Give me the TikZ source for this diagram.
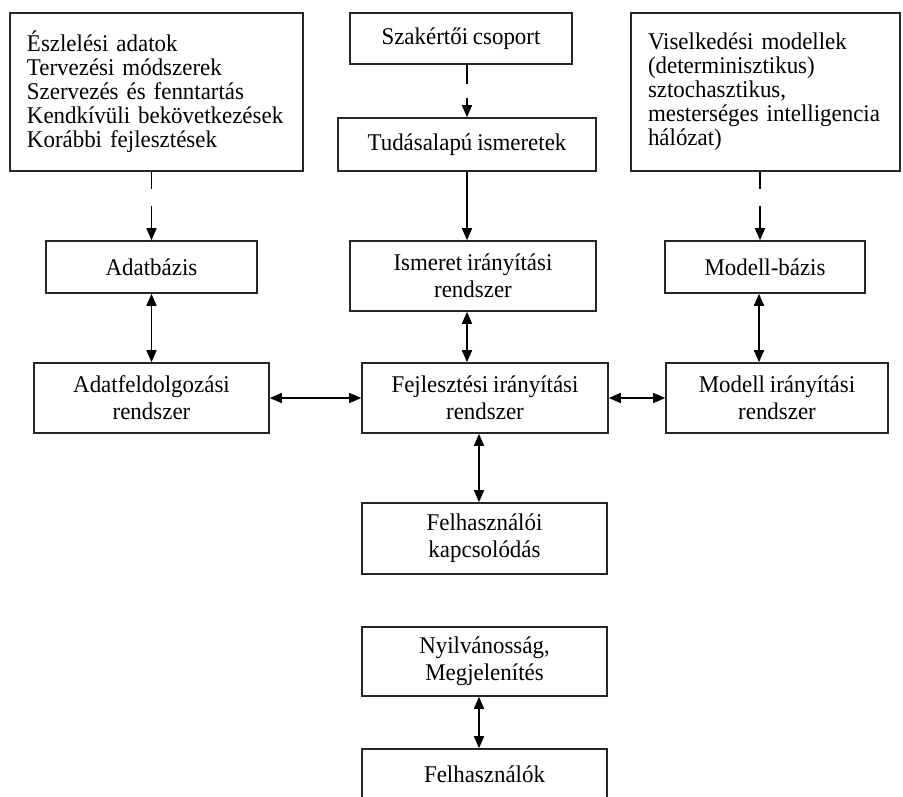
\documentclass[tikz,border=0pt]{standalone}
\usepackage{fontspec}
\setmainfont[FakeStretch=0.955,WordSpace=0.85]{Liberation Serif}
\usetikzlibrary{arrows.meta,calc}
\begin{document}
\begin{tikzpicture}[x=1pt,y=-1pt,
  box/.style={draw=black!85, line width=1.6pt, rectangle, inner sep=0pt, align=center,
    font=\fontsize{24}{27}\selectfont},
  listbox/.style={box, align=left, inner xsep=17pt, font=\fontsize{24}{24}\selectfont},
  conn/.style={line width=1.6pt, -{Triangle[length=12pt,width=10pt]}},
  biconn/.style={line width=1.6pt, {Triangle[length=12pt,width=10pt]}-{Triangle[length=12pt,width=10pt]}},
]
\useasboundingbox (0,0) rectangle (903,796);
\clip (0,0) rectangle (903,796);

% top row
\node[listbox, minimum width=293pt, minimum height=158pt, text width=259pt] (TL) at (156.5,92)
  {Észlelési adatok\\Tervezési módszerek\\Szervezés és fenntartás\\Kendkívüli bekövetkezések\\Korábbi fejlesztések};
\node[box, minimum width=222pt, minimum height=51pt] (Szak) at (461,38.5) {Szakértői csoport};
\node[box, minimum width=258pt, minimum height=53pt] (Tud) at (467,144.5) {Tudásalapú ismeretek};
\node[listbox, minimum width=269pt, minimum height=158pt, text width=235pt] (TR) at (765.5,92)
  {Viselkedési modellek\\(determinisztikus)\\sztochasztikus,\\mesterséges intelligencia\\hálózat)};

% second row
\node[box, minimum width=211pt, minimum height=52pt] (Adb) at (151.5,267) {Adatbázis};
\node[box, minimum width=246pt, minimum height=70pt] (Ism) at (473,276) {Ismeret irányítási\\rendszer};
\node[box, minimum width=200pt, minimum height=52pt] (MB) at (765,267) {Modell-bázis};

% third row
\node[box, minimum width=235pt, minimum height=70pt] (AF) at (151.5,398) {Adatfeldolgozási\\rendszer};
\node[box, minimum width=246pt, minimum height=70pt] (Fej) at (485,398) {Fejlesztési irányítási\\rendszer};
\node[box, minimum width=222pt, minimum height=70pt] (MI) at (777,398) {Modell irányítási\\rendszer};

% lower column
\node[box, minimum width=245pt, minimum height=71pt] (FK) at (484.5,538.5) {Felhasználói\\kapcsolódás};
\node[box, minimum width=245pt, minimum height=69pt] (Ny) at (484.5,661.5) {Nyilvánosság,\\Megjelenítés};
\node[box, minimum width=245pt, minimum height=50pt] (Fo) at (484.5,774) {Felhasználók};

% connectors
\draw[conn, dash pattern=on 17pt off 17pt on 80pt] (Adb.north |- TL.south) -- (Adb.north);
\draw[conn, dash pattern=on 19pt off 14pt on 80pt] (Tud.north |- Szak.south) -- (Tud.north);
\draw[conn, dash pattern=on 17pt off 17pt on 80pt] ([xshift=-5pt]MB.north |- TR.south) -- ([xshift=-5pt]MB.north);
\draw[conn] (Tud.south) -- (Tud.south |- Ism.north);
\draw[biconn] (Tud.south |- Ism.south) -- (Tud.south |- Fej.north);
\draw[biconn] (Adb.south) -- (Adb.south |- AF.north);
\draw[biconn] ([xshift=-6pt]MB.south) -- ([xshift=-6pt]MB.south |- MI.north);
\draw[biconn] (AF.east) -- (AF.east -| Fej.west);
\draw[biconn] (Fej.east) -- (Fej.east -| MI.west);
\draw[biconn] ([xshift=-6pt]Fej.south) -- ([xshift=-6pt]Fej.south |- FK.north);
\draw[biconn] ([xshift=-5.5pt]Ny.south) -- ([xshift=-5.5pt]Ny.south |- Fo.north);
\end{tikzpicture}
\end{document}
